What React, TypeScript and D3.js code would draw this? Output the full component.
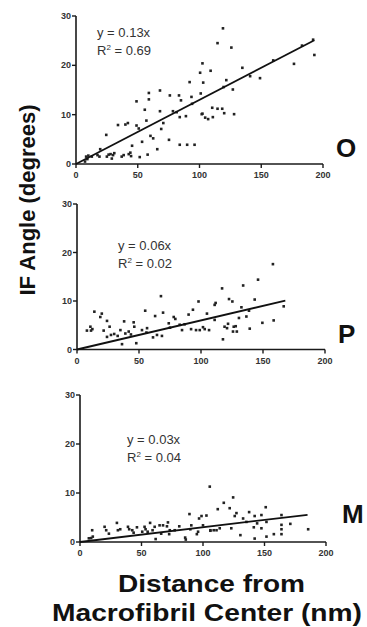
import React, { useMemo } from 'react';
import * as d3 from 'd3';

type Pt = [number, number];

// distance (nm), IF angle (degrees)
const panelOPoints: Pt[] = [
  [8.2, 1.5], [10, 1.7], [9.2, 1.0], [7.3, 0.5], [12.8, 1.5], [17.4, 1.8], [19.6, 3.0], [19, 1.5],
  [24.5, 5.9], [25, 1.5], [26.4, 1.9], [28, 2.0], [30, 1.8], [29, 1.1], [31, 2.2], [34, 7.9],
  [37, 1.5], [38.6, 1.8], [40, 8.0], [42, 8.3], [42.7, 2.0], [44, 2.3], [45.4, 3.7], [44.6, 1.6],
  [49, 12.7], [49, 7.8], [50.8, 7.2], [51.6, 1.4], [53.5, 4.5], [55.7, 11.0], [57, 8.8], [58, 1.9],
  [59, 13.1], [59, 14.4], [60.3, 5.7], [62.5, 5.2], [65.8, 3.0], [68, 14.9], [68, 10.7], [69, 7.1],
  [70.7, 8.3], [76, 13.9], [75.3, 4.9], [78.5, 10.7], [81.5, 10.5], [83.4, 13.9], [84, 9.5], [84, 3.9],
  [85, 12.9], [89, 9.7], [90, 3.9], [92, 16.6], [93.5, 13.6], [94, 12.2], [96, 3.9], [100.5, 18.5],
  [101, 14.3], [102.4, 20.4], [102.4, 10.2], [119, 27.5], [114.6, 24.5], [125.8, 23.6], [109, 18.9],
  [103, 16.5], [121.7, 17], [119.5, 15.6], [127, 15.1], [134.7, 19.5], [141, 17.8], [149, 17.4],
  [159.7, 21], [176.5, 20.3], [183, 24], [193, 22.1], [192, 25.2], [110.3, 11.4], [114.6, 11.2],
  [118.4, 11.2], [120, 10.3], [128, 10.1], [101.8, 10.1], [104.6, 9.4], [107, 9.1], [110.8, 9.5],
];

const panelPPoints: Pt[] = [
  [8, 3.9], [10.8, 4.7], [11.3, 3.9], [12.4, 4.2], [14, 7.8], [18.8, 6.7], [20, 7.4], [21.5, 3.9],
  [24.2, 5.9], [24.2, 2.6], [26.3, 4.7], [27.4, 3.0], [30, 3.2], [32.8, 2.8], [35, 4.0], [36.3, 1.1],
  [38, 5.8], [39, 3.3], [41.7, 3.7], [43.5, 3.1], [45.7, 5.6], [46.2, 4.7], [47.8, 1.3], [52.4, 4.0],
  [55, 8.0], [56, 3.5], [56.5, 4.4], [61.3, 2.5], [63, 6.9], [64.5, 3.0], [67.7, 11.0], [68.5, 2.8],
  [69.4, 7.6], [74, 5.4], [75, 4.5], [78, 6.7], [79.3, 6.3], [82.8, 5.1], [84.7, 4.0], [86.8, 5.2],
  [90, 7.2], [92, 4.2], [93.5, 8.2], [96, 4.0], [98, 9.9], [99, 4.0], [158, 17.6], [146, 14.4],
  [134, 13.2], [117, 12.6], [122.6, 10.4], [125.3, 9.9], [111.8, 9.6], [111, 9.2], [143.3, 10.3],
  [132.6, 8.7], [138.7, 8.0], [166.7, 8.9], [104.8, 7.4], [111, 6.1], [130.6, 6.5], [136.6, 6.8],
  [149.5, 5.5], [158.6, 6.0], [139.3, 4.3], [121.8, 5.3], [119, 4.7], [121, 4.4], [126.4, 4.7],
  [128, 4.8], [125.8, 3.7], [128.9, 3.7], [101.6, 4.6], [103, 4.2], [106.5, 4.0], [117.7, 2.1],
];

const panelMPoints: Pt[] = [
  [9.9, 2.4], [10.4, 1.1], [9.1, 0.8], [7.2, 0.75], [20, 3.1], [21.3, 2.4], [23.5, 1.7], [30, 3.9],
  [30.8, 2.4], [32.7, 2.6], [39, 3.1], [40, 2.6], [42.5, 2.4], [43.6, 1.9], [46.3, 3.0], [50.6, 2.1],
  [52.5, 3.1], [53.3, 2.6], [55, 2.1], [57, 3.9], [59, 2.4], [60.7, 3.1], [61.5, 0.6], [64.7, 3.4],
  [66, 1.7], [67.5, 3.4], [70.7, 3.2], [71.5, 4.0], [73, 2.4], [72.5, 1.6], [77, 2.4], [80.7, 3.2],
  [85.5, 0.9], [86, 0.5], [89, 5.7], [89.7, 2.6], [90.5, 3.4], [95, 1.6], [96, 2.1], [96.8, 4.8],
  [98.8, 5.3], [100, 3.4], [102.8, 5.4], [105.5, 11.3], [106, 2.4], [108.7, 2.4], [112, 6.7],
  [124.5, 9.1], [116.9, 8.0], [121.7, 6.9], [127.2, 5.9], [125.8, 5.3], [137.5, 6.1], [151, 7.1],
  [147.5, 5.5], [142, 5.3], [163.8, 5.5], [132.6, 4.8], [135.3, 4.1], [144, 3.8], [151.6, 4.1],
  [113.6, 2.8], [106, 2.3], [111, 2.4], [123, 2.8], [141.3, 3.0], [147.5, 2.8], [163.8, 3.5],
  [163.8, 2.6], [163.8, 1.6], [171, 3.7], [185.5, 2.6], [130.4, 1.4], [142, 0.7], [151.6, 1.1],
  [157.6, 1.6],
];

const panelNames = ['O', 'P', 'M'];
const slopes = [0.13, 0.06, 0.03];
const rSquared = ['0.69', '0.02', '0.04'];
const fitEnds = [193, 168, 185];
const xTickValues = [0, 50, 100, 150, 200];
const yTickValues = [0, 10, 20, 30];

// pixel layout for each panel
const LAYOUT = [
  { x0: 76, x1: 323, y0: 164, y1: 16, eqX: 97, eqY: 37, labelX: 336, labelY: 157 },
  { x0: 77, x1: 325, y0: 349.5, y1: 204, eqX: 118, eqY: 250, labelX: 338, labelY: 343 },
  { x0: 80, x1: 326, y0: 542, y1: 395, eqX: 127, eqY: 444, labelX: 342, labelY: 523 },
];

const FONT = 'Arial, "Liberation Sans", Helvetica, sans-serif';
const INK = '#1a1a1a';

interface PanelProps {
  points: Pt[];
  slope: number;
  r2: string;
  fitEnd: number;
  name: string;
  layout: typeof LAYOUT[number];
}

const Panel: React.FC<PanelProps> = ({ points, slope, r2, fitEnd, name, layout }) => {
  const { xScale, yScale } = useMemo(() => ({
    xScale: d3.scaleLinear().domain([0, 200]).range([layout.x0, layout.x1]),
    yScale: d3.scaleLinear().domain([0, 30]).range([layout.y0, layout.y1]),
  }), [layout]);

  const fitLine = d3.line<number>()
    .x(d => xScale(d))
    .y(d => yScale(d * slope));

  return (
    <g>
      {/* axes */}
      <line x1={xScale(0)} x2={xScale(200)} y1={yScale(0)} y2={yScale(0)} stroke={INK} strokeWidth={1.6} />
      <line x1={xScale(0)} x2={xScale(0)} y1={yScale(0)} y2={yScale(30)} stroke={INK} strokeWidth={1.6} />
      {xTickValues.map(t => (
        <g key={`x-${t}`} transform={`translate(${xScale(t)}, ${yScale(0)})`}>
          <line y2={4} stroke={INK} strokeWidth={1.4} />
          <text y={14} textAnchor="middle" fontSize={9} fontWeight="bold" fill="#333" fontFamily={FONT}>{t}</text>
        </g>
      ))}
      {yTickValues.map(t => (
        <g key={`y-${t}`} transform={`translate(${xScale(0)}, ${yScale(t)})`}>
          <line x2={-4} stroke={INK} strokeWidth={1.4} />
          <text x={-5} dy="0.35em" textAnchor="end" fontSize={9} fontWeight="bold" fill="#333" fontFamily={FONT}>{t}</text>
        </g>
      ))}

      {/* data */}
      {points.map(([d, v], i) => (
        <rect key={i} x={xScale(d) - 1.3} y={yScale(v) - 1.3} width={2.6} height={2.6} fill="#222" />
      ))}

      {/* linear fit */}
      <path d={fitLine([0, fitEnd]) || ''} stroke="#111" strokeWidth={1.8} fill="none" />

      <text x={layout.eqX} y={layout.eqY} fontSize={13} fill="#333" fontFamily={FONT}>
        {`y = ${slope.toFixed(2)}x`}
      </text>
      <text x={layout.eqX} y={layout.eqY + 18} fontSize={13} fill="#333" fontFamily={FONT}>
        R<tspan fontSize={8} dy={-5}>2</tspan><tspan dy={5}>{` = ${r2}`}</tspan>
      </text>

      <text x={layout.labelX} y={layout.labelY} fontSize={26} fontWeight="bold" fill="#111" fontFamily={FONT}>
        {name}
      </text>
    </g>
  );
};

const App: React.FC = () => {
  const panels = [panelOPoints, panelPPoints, panelMPoints];
  return (
    <svg width={367} height={627} style={{ position: 'absolute', left: 0, top: 0, background: '#fff' }}>
      {panels.map((pts, i) => (
        <Panel
          key={panelNames[i]}
          points={pts}
          slope={slopes[i]}
          r2={rSquared[i]}
          fitEnd={fitEnds[i]}
          name={panelNames[i]}
          layout={LAYOUT[i]}
        />
      ))}
      <text
        transform="translate(35, 200) rotate(-90)"
        textAnchor="middle"
        fontSize={22}
        fontWeight="bold"
        fill="#111"
        fontFamily={FONT}
      >
        IF Angle (degrees)
      </text>
      <text
        x={118} y={592} fontSize={24} fontWeight="bold" fill="#111" fontFamily={FONT}
        textLength={187} lengthAdjust="spacingAndGlyphs"
      >
        Distance from
      </text>
      <text
        x={52} y={621} fontSize={24} fontWeight="bold" fill="#111" fontFamily={FONT}
        textLength={310} lengthAdjust="spacingAndGlyphs"
      >
        Macrofibril Center (nm)
      </text>
    </svg>
  );
};

export default App;
